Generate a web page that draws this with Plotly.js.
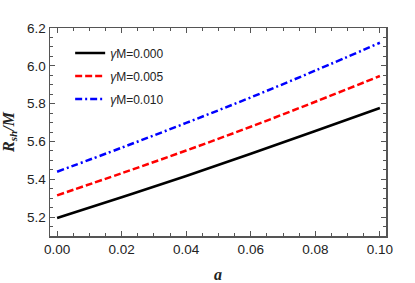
<!DOCTYPE html>
<html><head><meta charset="utf-8">
<script src="https://cdn.plot.ly/plotly-3.0.1.min.js"></script>
<style>html,body{margin:0;padding:0;background:#fff;}#plot{width:415px;height:283px;}</style>
</head><body><div id="plot"></div>
<script>
const aValues = [0.00, 0.02, 0.04, 0.06, 0.08, 0.10];
const rsh_g0000 = [5.195, 5.305, 5.417, 5.535, 5.655, 5.777];
const rsh_g0005 = [5.315, 5.432, 5.552, 5.678, 5.810, 5.946];
const rsh_g0010 = [5.440, 5.567, 5.698, 5.833, 5.975, 6.122];
const seriesNames = ['<i>γ</i>M=0.000', '<i>γ</i>M=0.005', '<i>γ</i>M=0.010'];
const xTicks = [0.00, 0.02, 0.04, 0.06, 0.08, 0.10];
const xTickText = ['0.00', '0.02', '0.04', '0.06', '0.08', '0.10'];
const yTicks = [5.2, 5.4, 5.6, 5.8, 6.0, 6.2];
const yTickText = ['5.2', '5.4', '5.6', '5.8', '6.0', '6.2'];

const traces = [
  {x: aValues, y: rsh_g0000, name: seriesNames[0], legendgroup: 'g1', line: {color: '#000000', width: 2.5, dash: 'solid', shape: 'spline'}},
  {x: aValues, y: rsh_g0005, name: seriesNames[1], legendgroup: 'g2', line: {color: '#ff0000', width: 2.5, dash: '7px,3px', shape: 'spline'}},
  {x: aValues, y: rsh_g0010, name: seriesNames[2], legendgroup: 'g3', line: {color: '#0000ff', width: 2.5, dash: '7px,3px,2px,3px', shape: 'spline'}}
].map(t => Object.assign({type: 'scatter', mode: 'lines'}, t));

const axisCommon = {
  showgrid: false, zeroline: false, showline: true, mirror: 'allticks',
  linecolor: '#555', linewidth: 1.5, ticks: 'inside', ticklen: 5, tickcolor: '#555', tickwidth: 1,
  tickfont: {family: 'Liberation Sans, Arial', size: 13.5, color: '#222'},
  tickmode: 'array'
};
const layout = {
  width: 415, height: 283,
  margin: {l: 50, r: 29, t: 28, b: 47},
  paper_bgcolor: '#fff', plot_bgcolor: '#fff',
  showlegend: true,
  legend: {x: 0.06, y: 0.95, xanchor: 'left', yanchor: 'top', bgcolor: 'rgba(0,0,0,0)',
           font: {family: 'Liberation Sans, Arial', size: 12, color: '#222'}, tracegroupgap: 4},
  xaxis: Object.assign({}, axisCommon, {
    range: [-0.0022, 0.1019], tickvals: xTicks, ticktext: xTickText,
    minor: {dtick: 0.005, ticks: 'inside', ticklen: 3, tickcolor: '#555'},
    title: {text: '<b><i>a</i></b>', font: {family: 'Liberation Serif, Times New Roman', size: 16, color: '#222'}, standoff: 13}
  }),
  yaxis: Object.assign({}, axisCommon, {
    range: [5.1, 6.2], tickvals: yTicks, ticktext: yTickText,
    minor: {dtick: 0.05, ticks: 'inside', ticklen: 3, tickcolor: '#555'},
    title: {text: '<b><i>R<sub>sh</sub>/M</i></b>', font: {family: 'Liberation Serif, Times New Roman', size: 16, color: '#222'}, standoff: 9}
  })
};
Plotly.newPlot('plot', traces, layout, {displayModeBar: false, staticPlot: true});
</script></body></html>
